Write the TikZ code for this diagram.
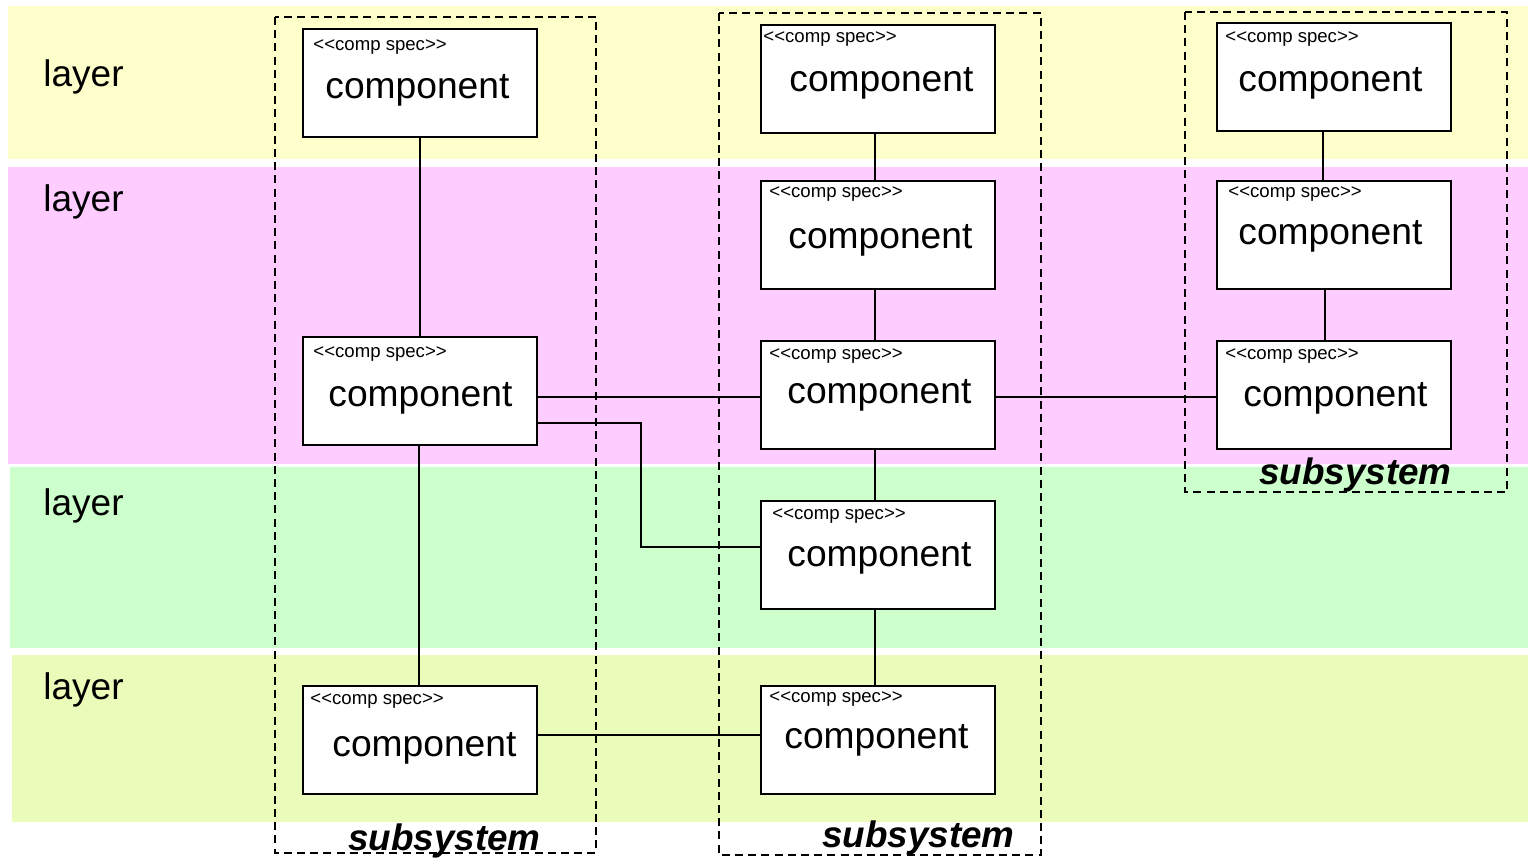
\documentclass[tikz,border=0pt]{standalone}
\usepackage{fontspec}
\setmainfont{Liberation Sans}
\newfontfamily\stereofont{Liberation Sans}[Ligatures=TeXOff]
\begin{document}
\begin{tikzpicture}[x=0.5pt,y=-0.5pt,
  subsys/.style={draw=black,line width=0.8pt,dash pattern=on 4pt off 2.6pt},
  compbox/.style={draw=black,fill=white,line width=1pt,minimum width=117pt,minimum height=54pt,inner sep=0pt},
  conn/.style={draw=black,line width=0.8pt},
  stereo/.style={anchor=base west,inner sep=0pt,font=\stereofont\fontsize{9.3pt}{11pt}\selectfont},
  comptext/.style={anchor=base west,inner sep=0pt,font=\fontsize{18.6pt}{22pt}\selectfont},
  layertext/.style={anchor=base west,inner sep=0pt,font=\fontsize{18.5pt}{22pt}\selectfont},
  subtext/.style={anchor=base west,inner sep=0pt,font=\fontsize{18.4pt}{22pt}\selectfont\bfseries\itshape}]
\useasboundingbox (0,0) rectangle (1528,858);
\definecolor{lyellow}{HTML}{FFFFCC}
\definecolor{lpink}{HTML}{FFCCFF}
\definecolor{lgreen}{HTML}{CCFFCC}
\definecolor{lolive}{HTML}{EBFCBA}
% layer bands
\fill[lyellow] (8,6) rectangle (1528,159);
\fill[lpink] (8,167) rectangle (1528,464);
\fill[lgreen] (10,467) rectangle (1528,648);
\fill[lolive] (12,655) rectangle (1528,822);
\node[layertext] (lay1) at (43,86) {layer};
\node[layertext] (lay2) at (43,211) {layer};
\node[layertext] (lay3) at (43,515.5) {layer};
\node[layertext] (lay4) at (43,699.5) {layer};
% subsystems
\draw[subsys] (275,17) rectangle (596,853);
\draw[subsys] (719,13) rectangle (1041,855);
\draw[subsys] (1185,12) rectangle (1507,492);
% components
\node[compbox] (L1) at (420,83) {};
\node[compbox] (L2) at (420,391) {};
\node[compbox] (L4) at (420,739.5) {};
\node[compbox] (M1) at (878,79) {};
\node[compbox] (M2) at (878,235) {};
\node[compbox] (M3) at (878,395) {};
\node[compbox] (M4) at (878,555) {};
\node[compbox] (M5) at (878,739.5) {};
\node[compbox] (R1) at (1333.5,77.3) {};
\node[compbox] (R2) at (1333.5,235) {};
\node[compbox] (R3) at (1333.5,395) {};
% connectors
\draw[conn] (L1.south) -- (L2.north);
\draw[conn] ([xshift=-0.5pt]L2.south) -- ([xshift=-0.5pt]L4.north);
\draw[conn] ([xshift=-1.5pt]M1.south) -- ([xshift=-1.5pt]M2.north);
\draw[conn] ([xshift=-1.5pt]M2.south) -- ([xshift=-1.5pt]M3.north);
\draw[conn] ([xshift=-1.5pt]M3.south) -- ([xshift=-1.5pt]M4.north);
\draw[conn] ([xshift=-1.5pt]M4.south) -- ([xshift=-1.5pt]M5.north);
\draw[conn] ([xshift=-5.25pt]R1.south) -- ([xshift=-5.25pt]R2.north);
\draw[conn] ([xshift=-4.25pt]R2.south) -- ([xshift=-4.25pt]R3.north);
\draw[conn] ([yshift=-3pt]L2.east) -- ([yshift=-3pt]L2.east -| M3.west);
\draw[conn] ([yshift=-1pt]M3.east) -- ([yshift=-1pt]M3.east -| R3.west);
\coordinate (bend) at (641,547);
\draw[conn] ([yshift=-16pt]L2.east) -| (bend) -- ([yshift=4pt]M4.west);
\draw[conn] ([yshift=2.25pt]L4.east) -- ([yshift=2.25pt]M5.west);
% texts
\node[stereo] (sL1) at (313,50.5) {<<comp spec>>};
\node[stereo] (sL2) at (313,357) {<<comp spec>>};
\node[stereo] (sL4) at (310,704) {<<comp spec>>};
\node[stereo] (sM1) at (763,42.7) {<<comp spec>>};
\node[stereo] (sM2) at (769,197) {<<comp spec>>};
\node[stereo] (sM3) at (769,359) {<<comp spec>>};
\node[stereo] (sM4) at (772,519) {<<comp spec>>};
\node[stereo] (sM5) at (769,702.7) {<<comp spec>>};
\node[stereo] (sR1) at (1225,42.7) {<<comp spec>>};
\node[stereo] (sR2) at (1228,197) {<<comp spec>>};
\node[stereo] (sR3) at (1225,359) {<<comp spec>>};
\node[comptext] (cL1) at (325,98) {component};
\node[comptext] (cL2) at (328,406) {component};
\node[comptext] (cL4) at (332,756) {component};
\node[comptext] (cM1) at (789,91) {component};
\node[comptext] (cM2) at (788,248) {component};
\node[comptext] (cM3) at (787,403) {component};
\node[comptext] (cM4) at (787,566) {component};
\node[comptext] (cM5) at (784,748) {component};
\node[comptext] (cR1) at (1238,91) {component};
\node[comptext] (cR2) at (1238,244.5) {component};
\node[comptext] (cR3) at (1243,406) {component};
\node[subtext] (ss1) at (348,850.5) {subsystem};
\node[subtext] (ss2) at (822,847.5) {subsystem};
\node[subtext] (ss3) at (1259,484.5) {subsystem};
\end{tikzpicture}
\end{document}
